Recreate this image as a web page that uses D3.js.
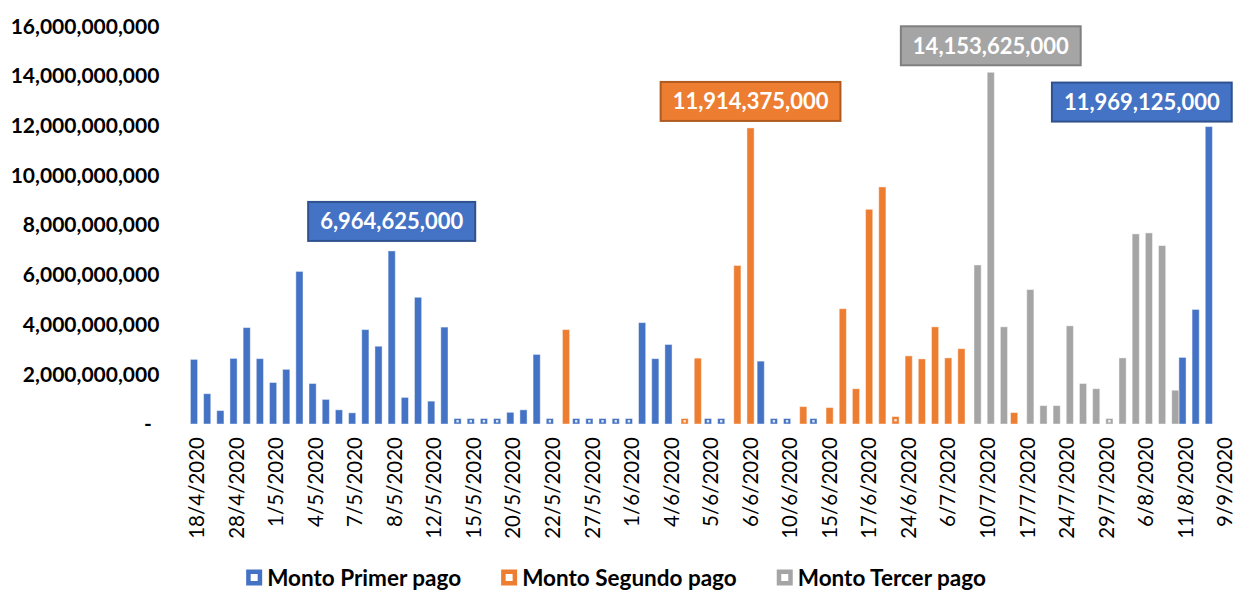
<!DOCTYPE html>
<html>
<head>
<meta charset="utf-8">
<script src="https://cdn.jsdelivr.net/npm/d3@7"></script>
<style>
  body { margin: 0; background: #fff; }
  svg { display: block; font-family: Lato, "Liberation Sans", sans-serif; }
</style>
</head>
<body>
<svg id="chart"></svg>
<script>
// fechas visibles en el eje (la hoja muestra una de cada tres)
const tickLabels = ["18/4/2020", "28/4/2020", "1/5/2020", "4/5/2020", "7/5/2020", "8/5/2020",
    "12/5/2020", "15/5/2020", "20/5/2020", "22/5/2020", "27/5/2020", "1/6/2020", "4/6/2020",
    "5/6/2020", "6/6/2020", "10/6/2020", "15/6/2020", "17/6/2020", "24/6/2020", "6/7/2020",
    "10/7/2020", "17/7/2020", "24/7/2020", "29/7/2020", "6/8/2020", "11/8/2020", "9/9/2020"];
const labelStep = 3;

const seriesNames = ["Monto Primer pago", "Monto Segundo pago", "Monto Tercer pago"];
const seriesColors = ["#4472C4", "#ED7D31", "#A5A5A5"];
const borderColors = ["#2F528F", "#AE5A21", "#7F7F7F"];

// montos en millones, una posicion por fecha (79 fechas), _ = sin barra
const _ = null;
const primerPago = [
    2600, 1220, 540, 2640, 3880, 2630, 1670, 2200, 6140, 1630,
    990, 570, 450, 3800, 3130, 6964.625, 1070, 5100, 920, 3900,
    220, 220, 220, 220, 470, 570, 2800, 220, _, 220,
    220, 220, 220, 220, 4080, 2630, 3200, _, _, 220,
    220, _, _, 2530, 220, 220, _, 220, _, _,
    _, _, _, _, _, _, _, _, _, _,
    _, _, _, _, _, _, _, _, _, _,
    _, _, _, _, _, 2680, 4610, 11969.125, _
];
const segundoPago = [
    _, _, _, _, _, _, _, _, _, _,
    _, _, _, _, _, _, _, _, _, _,
    _, _, _, _, _, _, _, _, 3800, _,
    _, _, _, _, _, _, _, 220, 2650, _,
    _, 6380, 11914.375, _, _, _, 700, _, 660, 4640,
    1420, 8640, 9540, 300, 2740, 2620, 3910, 2660, 3030, _,
    _, _, 460, _, _, _, _, _, _, _,
    _, _, _, _, _, _, _, _, _
];
const tercerPago = [
    _, _, _, _, _, _, _, _, _, _,
    _, _, _, _, _, _, _, _, _, _,
    _, _, _, _, _, _, _, _, _, _,
    _, _, _, _, _, _, _, _, _, _,
    _, _, _, _, _, _, _, _, _, _,
    _, _, _, _, _, _, _, _, _, 6400,
    14153.625, 3910, _, 5410, 740, 740, 3950, 1630, 1420, 220,
    2660, 7650, 7690, 7180, 1360, _, _, _, _
];

const yTicks = [0, 2e9, 4e9, 6e9, 8e9, 10e9, 12e9, 14e9, 16e9];

// etiquetas destacadas: fecha (indice), serie, corrimiento del cuadro
const callouts = [
    {cat: 15, serie: 0, dx: 0, gap: 10},
    {cat: 42, serie: 1, dx: 0, gap: 7},
    {cat: 60, serie: 2, dx: 0, gap: 7},
    {cat: 77, serie: 0, dx: -67, gap: 5}
];

const width = 1237, height = 591;
const svg = d3.select("#chart").attr("width", width).attr("height", height);

const series = [primerPago, segundoPago, tercerPago];
const toPesos = v => v * 1e6;
const fmt = d3.format(",");

let x = d3.scaleBand()
    .domain(d3.range(primerPago.length))
    .range([190.4, 1231.6])
    .padding(0);

let y = d3.scaleLinear()
    .domain([0, 16e9])
    .range([424, 26.4]);

// barras agrupadas con superposicion
const barWidth = x.bandwidth() * 0.545;
const shift = (x.bandwidth() - barWidth) / 2;

// eje y
svg.append("g")
    .attr("transform", `translate(${x.range()[0]},0)`)
    .call(d3.axisLeft(y).tickValues(yTicks).tickSize(0).tickPadding(31)
        .tickFormat(d => d === 0 ? "-" : fmt(d)))
    .call(g => g.select(".domain").remove())
    .attr("font-family", null)
    .attr("font-size", 21)
    .attr("font-weight", "bold")
    .call(g => g.selectAll("text").attr("fill", "#000"))
    .call(g => g.selectAll(".tick").filter(d => d === 0).select("text").attr("x", -38.5));

// eje x
svg.append("g")
    .attr("transform", `translate(0,${y(0)})`)
    .call(d3.axisBottom(x)
        .tickValues(x.domain().filter(i => i % labelStep === 0))
        .tickFormat(i => tickLabels[i / labelStep])
        .tickSize(0))
    .call(g => g.select(".domain").remove())
    .attr("font-family", null)
    .attr("font-size", 20.5)
    .selectAll("text")
    .attr("fill", "#000")
    .attr("transform", "rotate(-90)")
    .attr("text-anchor", "end")
    .attr("x", -13)
    .attr("y", 0)
    .attr("dy", "0.35em");

// barras
series.forEach((vals, s) => {
    let pts = vals.map((v, i) => ({i: i, v: v})).filter(d => d.v != null);
    let g = svg.append("g");

    g.selectAll("rect")
        .data(pts)
        .join("rect")
        .attr("x", d => x(d.i) + s * shift)
        .attr("y", d => y(toPesos(d.v)))
        .attr("width", barWidth)
        .attr("height", d => y(0) - y(toPesos(d.v)))
        .attr("fill", seriesColors[s])
        .attr("stroke", "rgba(255,255,255,0.45)")
        .attr("stroke-width", 1);

    // las barras muy bajas dejan ver un punto claro al centro
    g.selectAll("rect.dot")
        .data(pts.filter(d => y(0) - y(toPesos(d.v)) < 8))
        .join("rect")
        .attr("class", "dot")
        .attr("x", d => x(d.i) + s * shift + barWidth / 2 - 1.2)
        .attr("y", d => (y(0) + y(toPesos(d.v))) / 2 - 1.2)
        .attr("width", 2.4)
        .attr("height", 2.4)
        .attr("fill", "#fff")
        .attr("opacity", 0.85);
});

// cuadros con el monto
const boxH = 39, padX = 12;
callouts.forEach(c => {
    let v = toPesos(series[c.serie][c.cat]);
    let cx = x(c.cat) + c.serie * shift + barWidth / 2 + c.dx;
    let bottom = y(v) - c.gap;
    let g = svg.append("g");
    let rect = g.append("rect");
    let t = g.append("text")
        .attr("x", cx)
        .attr("y", bottom - boxH / 2)
        .attr("dy", "0.36em")
        .attr("text-anchor", "middle")
        .attr("font-size", 22)
        .attr("font-weight", "bold")
        .attr("fill", "#fff")
        .text(fmt(Math.round(v)));
    let w = t.node().getComputedTextLength() + padX * 2;
    rect.attr("x", cx - w / 2)
        .attr("y", bottom - boxH)
        .attr("width", w)
        .attr("height", boxH)
        .attr("fill", seriesColors[c.serie])
        .attr("stroke", borderColors[c.serie])
        .attr("stroke-width", 2);
});

// leyenda
const legend = svg.append("g").attr("font-size", 22.5).attr("font-weight", "bold");
const mk = 16, mkGap = 5, itemGap = 40;
let items = seriesNames.map((name, s) => {
    let g = legend.append("g");
    g.append("rect").attr("width", mk).attr("height", mk).attr("y", -mk / 2)
        .attr("fill", seriesColors[s]);
    g.append("rect").attr("x", mk / 2 - 3.5).attr("y", -3.5).attr("width", 7).attr("height", 7)
        .attr("fill", "#fff");
    let t = g.append("text").attr("x", mk + mkGap).attr("dy", "0.36em").attr("fill", "#000").text(name);
    return {g: g, w: mk + mkGap + t.node().getComputedTextLength()};
});
let total = d3.sum(items, d => d.w) + itemGap * (items.length - 1);
let lx = 616 - total / 2;
items.forEach(it => {
    it.g.attr("transform", `translate(${lx},577.5)`);
    lx += it.w + itemGap;
});
</script>
</body>
</html>
